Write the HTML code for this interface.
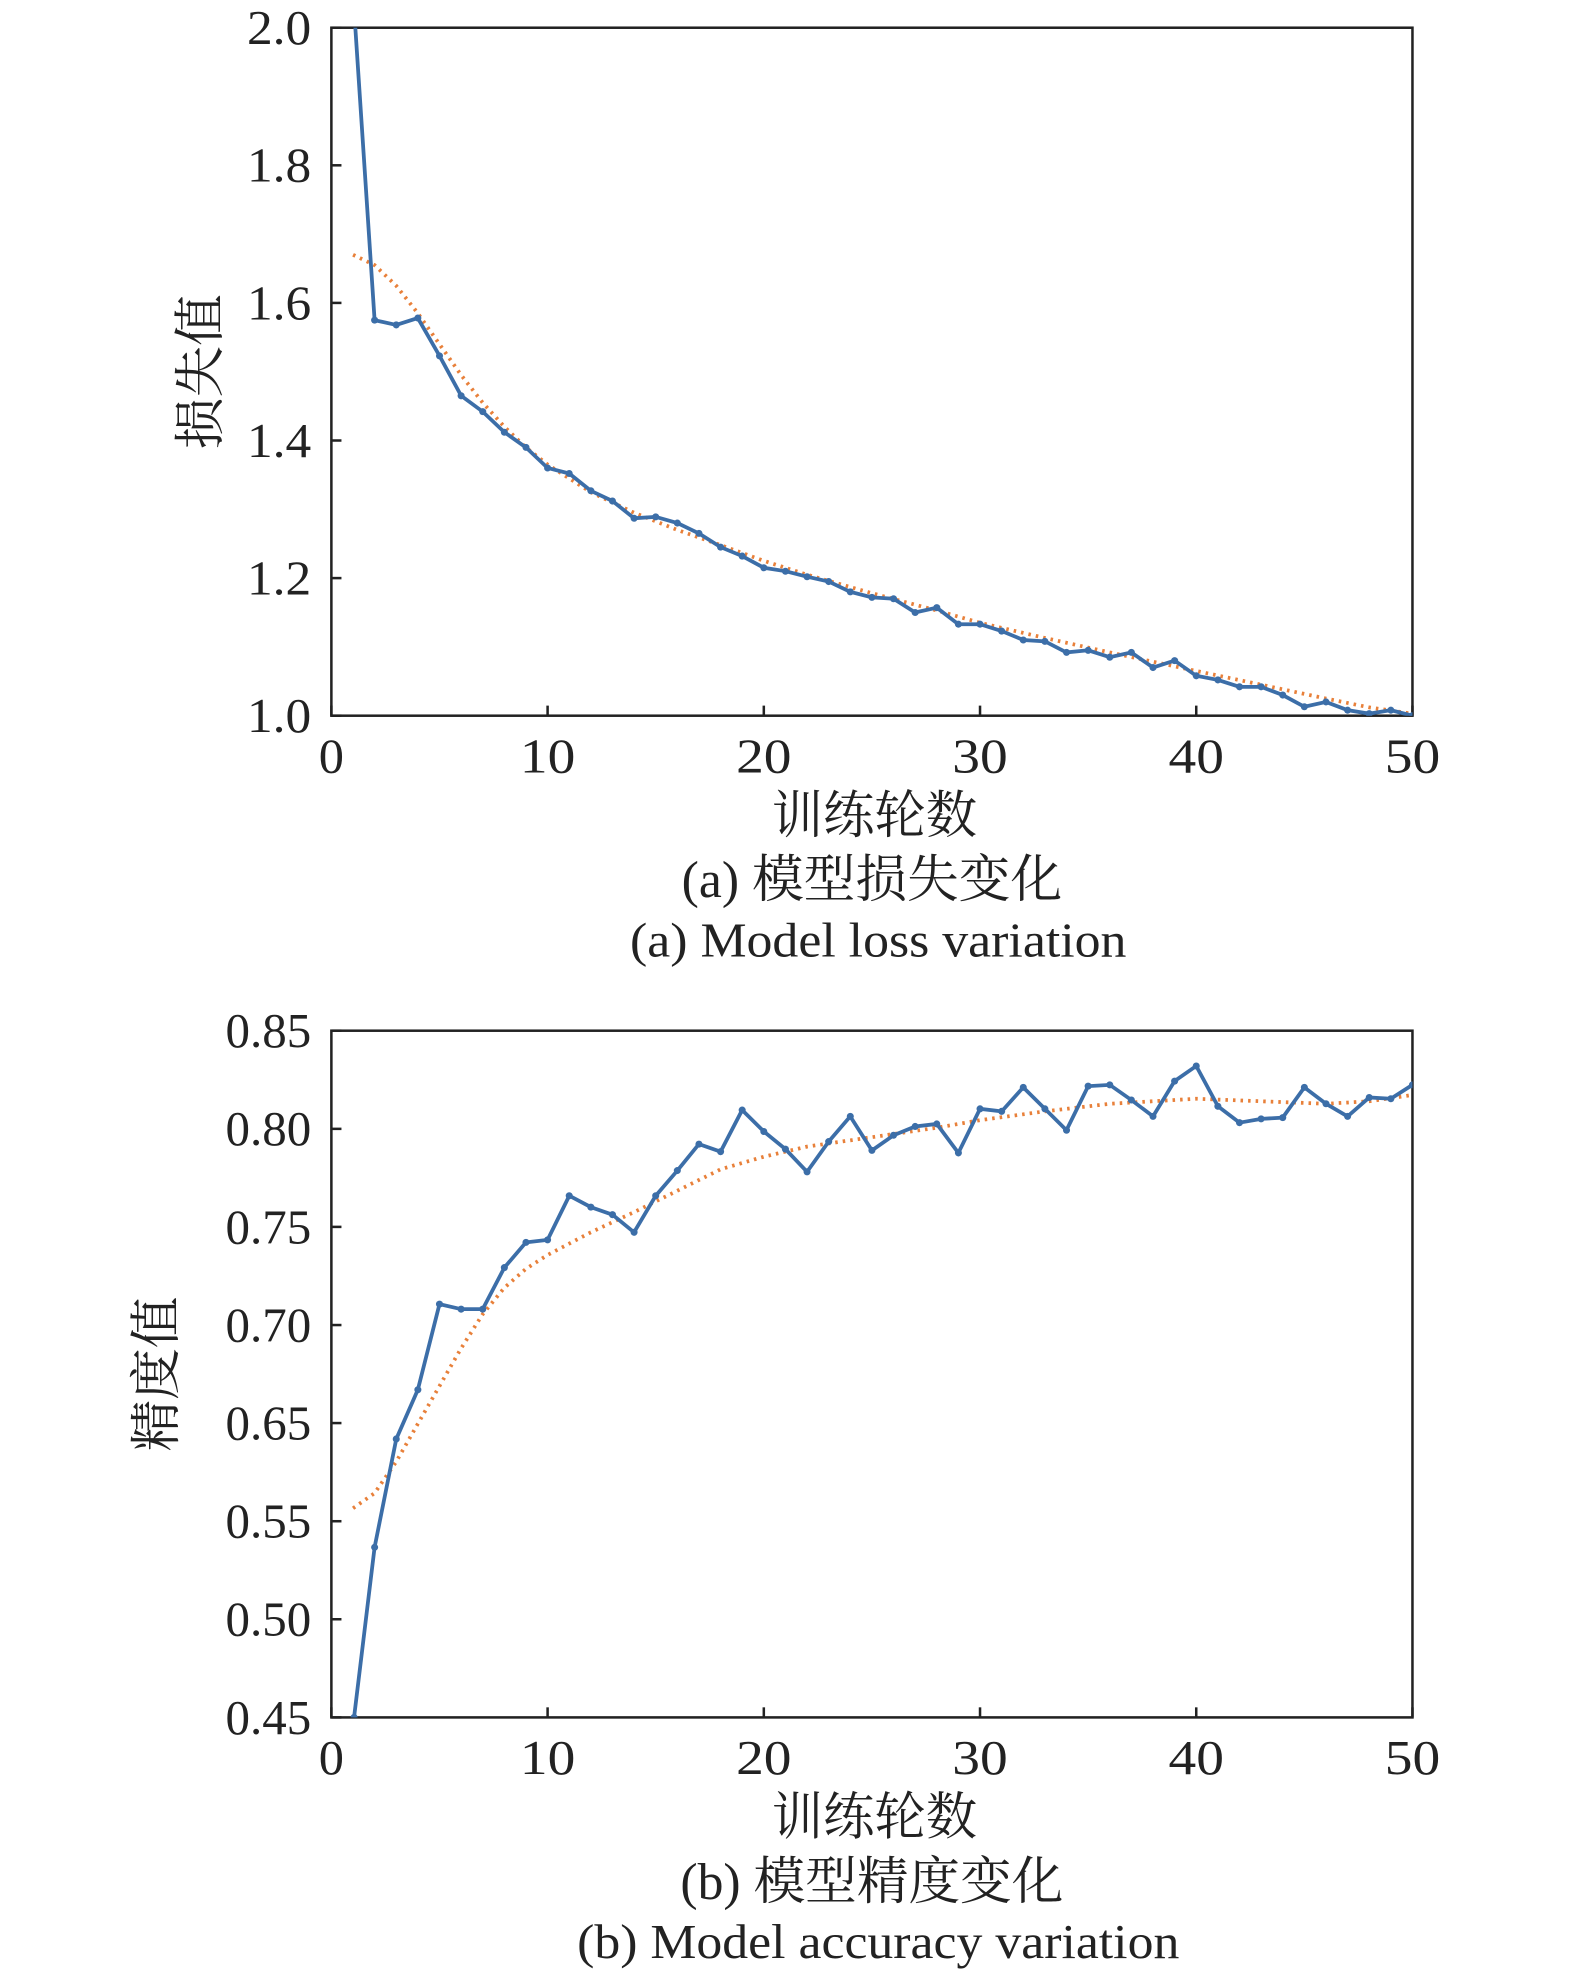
<!DOCTYPE html>
<html><head><meta charset="utf-8"><style>
html,body{margin:0;padding:0;background:#fff}
svg{display:block}
text{font-family:"Liberation Serif","Noto Serif CJK SC",serif;fill:#222}
</style></head><body>
<svg id="s" width="1575" height="1980" viewBox="0 0 1250 1571.4" preserveAspectRatio="none" xmlns="http://www.w3.org/2000/svg">
<defs>
<clipPath id="ca"><rect x="263" y="22" width="858" height="546"/></clipPath>
<clipPath id="cb"><rect x="263" y="818" width="858" height="545"/></clipPath>
</defs>
<g id="g"></g>
</svg>
<script>
var NS="http://www.w3.org/2000/svg",g=document.getElementById('g');
function el(t,a,txt){var e=document.createElementNS(NS,t);for(var k in a)e.setAttribute(k,a[k]);if(txt!=null)e.textContent=txt;g.appendChild(e);return e;}
function X(x){return 263+x*17.16;}
function axes(y0,y1,ylabels,ys,title1,title2,yl,ylx,t1w,t2w){
 el('rect',{x:263,y:y0,width:858,height:y1-y0,fill:'none',stroke:'#222','stroke-width':2});
 for(var i=0;i<=5;i++){var x=X(i*10);el('line',{x1:x,y1:y1,x2:x,y2:y1-8,stroke:'#222','stroke-width':2});
  el('text',{x:x,y:y1+45,'text-anchor':'middle','font-size':39,textLength:(i?44:20),lengthAdjust:'spacingAndGlyphs'},String(i*10));}
 for(var i=0;i<ys.length;i++){el('line',{x1:263,y1:ys[i],x2:271,y2:ys[i],stroke:'#222','stroke-width':2});
  el('text',{x:247,y:ys[i]+13,'text-anchor':'end','font-size':39,textLength:ylabels[i].length*17,lengthAdjust:'spacingAndGlyphs'},ylabels[i]);}
 el('text',{x:694,y:y1+93,'text-anchor':'middle','font-size':41,textLength:163,lengthAdjust:'spacingAndGlyphs'},'训练轮数');
 el('text',{x:692,y:y1+144,'text-anchor':'middle','font-size':41,textLength:t1w,lengthAdjust:'spacingAndGlyphs'},title1);
 el('text',{x:697,y:y1+191,'text-anchor':'middle','font-size':39,textLength:t2w,lengthAdjust:'spacingAndGlyphs'},title2);
 el('text',{x:0,y:0,'text-anchor':'middle','font-size':41,transform:'translate('+ylx+','+((y0+y1)/2)+') rotate(-90)'},yl);
}
function series(pts,trend,clip){
 var d=pts.map(function(p,i){return (i?'L':'M')+X(p[0]).toFixed(1)+','+p[1].toFixed(1);}).join('');
 var td=trend.map(function(p,i){return (i?'L':'M')+X(p[0]).toFixed(1)+','+p[1].toFixed(1);}).join('');
 el('path',{d:td,fill:'none',stroke:'#e8803a','stroke-width':3,'stroke-dasharray':'2,4','clip-path':clip});
 el('path',{d:d,fill:'none',stroke:'#3c6ea8','stroke-width':3,'clip-path':clip});
 pts.forEach(function(p){el('circle',{cx:X(p[0]),cy:p[1],r:2.8,fill:'#3c6ea8','clip-path':clip});});
}
axes(22,568,['2.0','1.8','1.6','1.4','1.2','1.0'],[22,131.2,240.4,349.6,458.8,568],'(a) 模型损失变化','(a) Model loss variation','损失值',173,302,394);
var loss=[2.05,1.575,1.568,1.578,1.523,1.465,1.442,1.412,1.39,1.36,1.352,1.327,1.312,1.287,1.289,1.28,1.265,1.245,1.232,1.215,1.21,1.202,1.195,1.18,1.172,1.17,1.15,1.157,1.133,1.133,1.123,1.11,1.108,1.092,1.095,1.085,1.092,1.07,1.08,1.058,1.052,1.042,1.042,1.03,1.013,1.02,1.008,1.003,1.008,1.0];
function LY(v){return 568-(v-1)*546;}
var pa=loss.map(function(v,i){return [i+1,LY(v)];});
var tla=[[1,1.67],[2,1.655],[3,1.625],[4,1.585],[5,1.54],[6,1.495],[7,1.455],[8,1.42],[9,1.39],[10,1.365],[12,1.325],[14,1.295],[16,1.27],[18,1.248],[20,1.225],[22,1.205],[25,1.178],[28,1.153],[30,1.135],[33,1.113],[36,1.092],[40,1.065],[43,1.045],[46,1.025],[48,1.012],[50,1.003]];
series(pa,tla.map(function(p){return [p[0],LY(p[1])];}),'url(#ca)');
axes(818,1363,['0.85','0.80','0.75','0.70','0.65','0.55','0.50','0.45'],[818,895.9,973.7,1051.6,1129.4,1207.3,1285.1,1363],'(b) 模型精度变化','(b) Model accuracy variation','精度值',138,304,478);
var acc=[1363,1228,1142,1103,1035,1039,1039,1006,986,984,949,958,964,978,949,929,908,914,881,898,912,930,906,886,913,901,894,892,915,880,882,863,880,897,862,861,873,886,858,846,878,891,888,887,863,876,886,871,872,861];
var pb=acc.map(function(v,i){return [i+1,v];});
pb[0]=[1.05,1363];
var tb=[[1,1197],[2,1185],[3,1160],[4,1130],[5,1100],[6,1070],[7,1043],[8,1022],[9,1007],[10,996],[12,978],[14,962],[16,945],[18,928],[20,918],[22,910],[24,905],[26,900],[28,895],[30,889],[33,882],[36,876],[40,872],[43,874],[46,876],[48,874],[50,869]];
series(pb,tb,'url(#cb)');
</script>
</body></html>
